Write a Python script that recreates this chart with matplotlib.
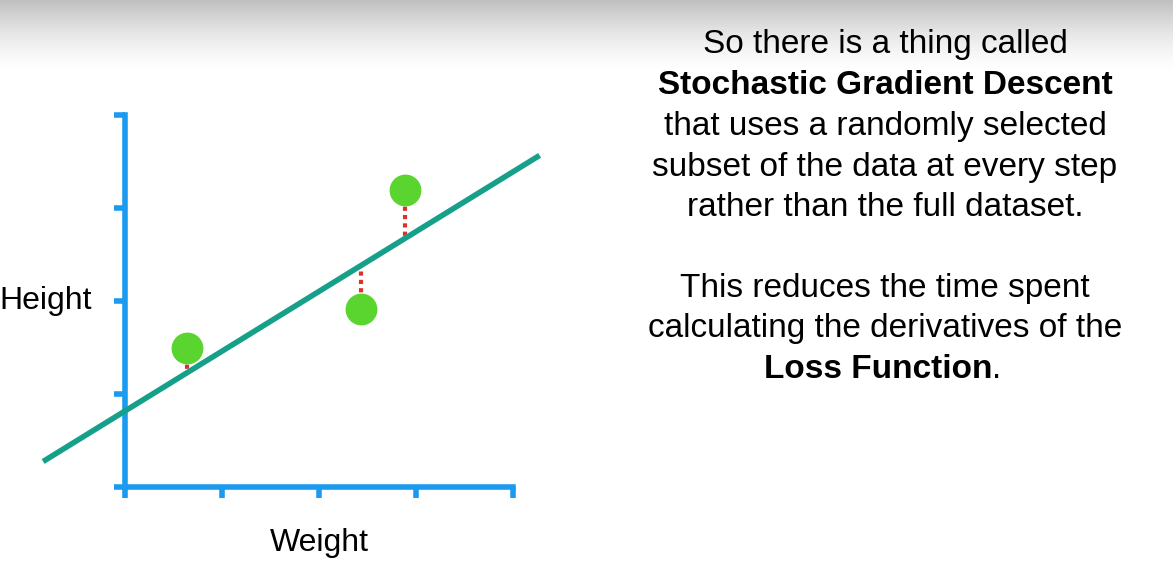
import matplotlib.pyplot as plt
import numpy as np

weight = [0.64, 2.43, 2.89]
height = [1.50, 1.91, 3.19]
line_x = [-0.82, 4.25]
line_y = [0.29, 3.55]

W, H = 1173, 562
fig = plt.figure(figsize=(W / 100, H / 100), dpi=100)
plt.rcParams['font.family'] = ['Liberation Sans', 'DejaVu Sans']

# grey fade at the top
bg = fig.add_axes([0, 0, 1, 1], zorder=-1)
bg.axis('off')
g = np.linspace(0, 1, 562)[:, None]
shade = 1 - 0.25 * np.clip(1 - g / 0.13, 0, 1) ** 1.5
bg.imshow(np.repeat(shade, 2, axis=1), cmap='gray', vmin=0, vmax=1, aspect='auto', extent=[0, 1, 1, 0])
bg.set_xlim(0, 1)
bg.set_ylim(1, 0)

ax = fig.add_axes([125 / W, (H - 487) / H, 388 / W, 372 / H])
ax.set_xlim(0, 4)
ax.set_ylim(0, 4)
blue = '#1a9bf0'
for s in ['top', 'right']:
    ax.spines[s].set_visible(False)
for s in ['left', 'bottom']:
    ax.spines[s].set_color(blue)
    ax.spines[s].set_linewidth(4)
ax.set_xticks([0, 1, 2, 3, 4])
ax.set_yticks([0, 1, 2, 3, 4])
ax.set_xticklabels([])
ax.set_yticklabels([])
ax.tick_params(colors=blue, width=4, length=8)
ax.set_xlabel('Weight', fontsize=23, labelpad=18)
ax.set_ylabel('Height', fontsize=23, rotation=0, ha='right', va='center', labelpad=12)

a = (line_y[1] - line_y[0]) / (line_x[1] - line_x[0])
for x, y in zip(weight, height):
    yl = line_y[0] + a * (x - line_x[0])
    ax.plot([x, x], [y, yl], color='#e0302a', linestyle=(0, (1, 1)), lw=3, zorder=2)
ax.plot(line_x, line_y, color='#16a08a', lw=4, clip_on=False, zorder=3)
ax.scatter(weight, height, s=480, color='#5ad52f', zorder=4, clip_on=False)

tx = 885 / W
fs = 24
lines = [(44, 'So there is a thing called', 'normal'),
         (85, 'Stochastic Gradient Descent', 'bold'),
         (127, 'that uses a randomly selected', 'normal'),
         (168, 'subset of the data at every step', 'normal'),
         (208, 'rather than the full dataset.', 'normal'),
         (288, 'This reduces the time spent', 'normal'),
         (329, 'calculating the derivatives of the', 'normal')]
for y, t, w in lines:
    fig.text(tx, 1 - y / H, t, ha='center', va='center', fontsize=fs, fontweight=w)

t1 = fig.text(tx - 0.006, 1 - 370 / H, 'Loss Function', ha='center', va='center', fontsize=fs, fontweight='bold')
fig.canvas.draw()
bb = t1.get_window_extent()
fig.text(bb.x1 / W, 1 - 370 / H, '.', ha='left', va='center', fontsize=fs)

fig.savefig('out.png', dpi=100)
